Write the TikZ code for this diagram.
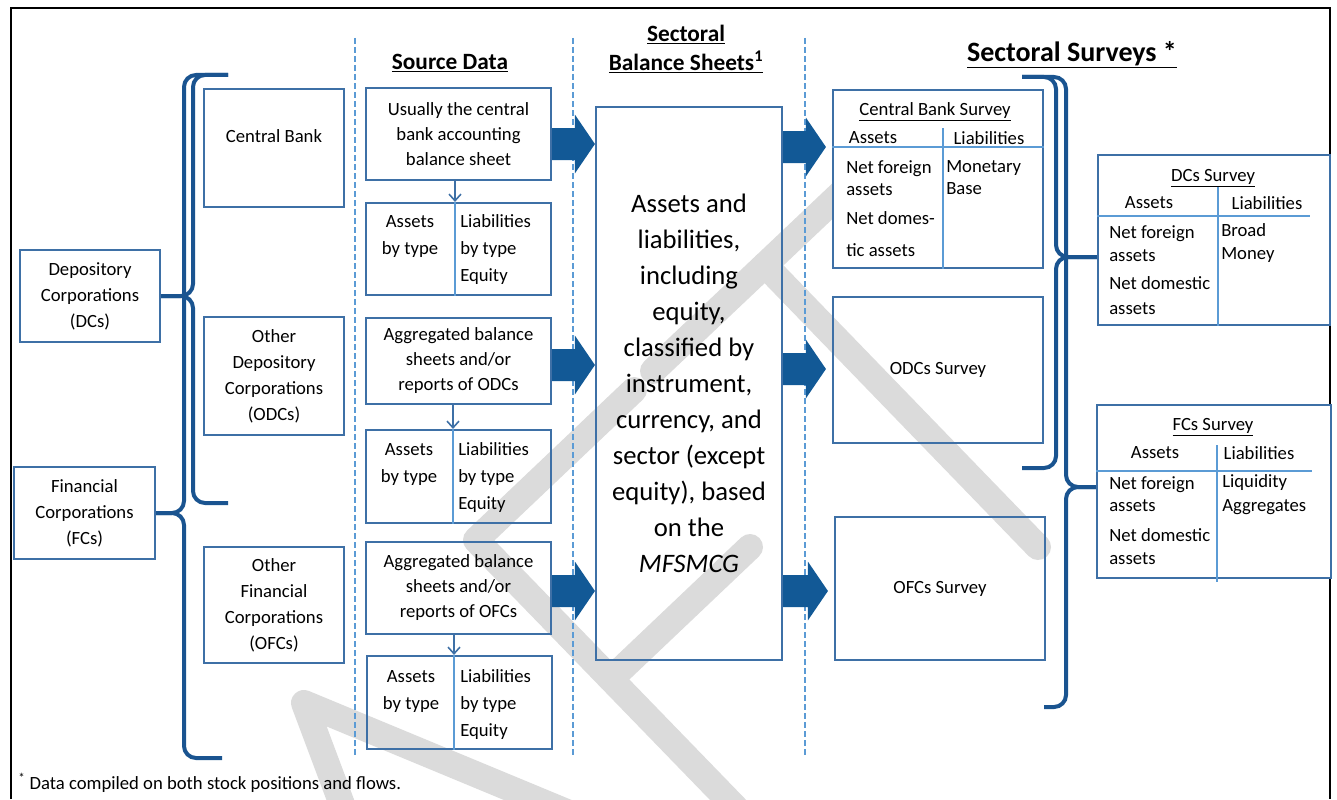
\documentclass[tikz,border=0pt]{standalone}
\usepackage{fontspec}
\setmainfont{Carlito}
\usetikzlibrary{arrows.meta,calc}

\definecolor{boxblue}{RGB}{62,112,166}
\definecolor{lineblue}{RGB}{91,155,213}
\definecolor{arrowblue}{RGB}{18,89,150}
\definecolor{braceblue}{RGB}{26,84,144}
\definecolor{draftgray}{RGB}{219,219,219}

\newcommand\pxu{0.75pt}
\newcommand\boxfont{\fontsize{14}{18.75}\selectfont}
\newcommand\sectorfont{\fontsize{14}{19.5}\selectfont}
\newcommand\survfont{\fontsize{14}{16.5}\selectfont}
\newcommand\bigfont{\fontsize{20}{27}\selectfont}
\newcommand\headfont{\fontsize{17.5}{21.75}\selectfont\bfseries}
\newcommand\titlefont{\fontsize{21}{25}\selectfont\bfseries}

\tikzset{
  box/.style={draw=boxblue, line width=1.6pt, inner sep=0pt},
  tablebox/.style={box, fill=white},
  txt/.style={font=\boxfont, align=center, inner sep=0pt},
  sectortxt/.style={font=\sectorfont, align=center, inner sep=0pt},
  survtxt/.style={font=\survfont, align=left, anchor=west, inner sep=0pt},
  bigtxt/.style={font=\bigfont, align=center},
  heading/.style={font=\headfont, align=center, inner sep=0pt},
  divider/.style={draw=lineblue, line width=1.3pt},
  sep/.style={draw=lineblue, line width=1.8pt, dash pattern=on 4.5pt off 2.25pt},
  thinarrow/.style={draw=boxblue, line width=1.2pt, -{Straight Barb[length=5pt,width=9pt]}},
  brace/.style={draw=braceblue, line width=3pt, rounded corners=9pt},
  draft/.style={draw=draftgray, line width=19.5pt, line cap=round, line join=round},
  fat/.style={fill=arrowblue, to path={let \p1=(\tikztostart), \p2=(\tikztotarget) in
    (\x1,\y1+12pt) -- (\x2-15pt,\y1+12pt) -- (\x2-15pt,\y1+22pt) -- (\x2,\y1)
    -- (\x2-15pt,\y1-22pt) -- (\x2-15pt,\y1-12pt) -- (\x1,\y1-12pt) -- cycle}}
}

\begin{document}
\begin{tikzpicture}[x=0.75pt, y=-0.75pt]
  \useasboundingbox (0,0) rectangle (1337,799);

  % Watermark
  \begin{scope}
    \clip (11,8) rectangle (1330,799);
    \draw[draft] (461,1122) -- (304,703) -- (721,876);
    \draw[draft] (634,390) -- (476,540) -- (763,836);
    \draw[draft] (611,679) -- (750,547);
    \draw[draft] (765,265) -- (1038,547);
    \draw[draft] (653,371) -- (877,159);
  \end{scope}

  % Frame
  \draw[line width=2.2pt] (11,799) -- (11,8) -- (1330,8) -- (1330,799);

  % Separators
  \draw[sep] (355,38) -- (355,758);
  \draw[sep] (573,38) -- (573,758);
  \draw[sep] (805,38) -- (805,758);

  % Headings
  \node[heading] (hsrc) at (450,63) {\underline{Source Data}};
  \node[heading] (hbs) at (686,49) {\underline{Sectoral}\\\underline{Balance Sheets\textsuperscript{1}}};
  \node[font=\titlefont, inner sep=0pt] (hsur) at (1072,55) {\underline{Sectoral Surveys *}};

  % Sectors
  \node[box, sectortxt, minimum width=140*\pxu, minimum height=92*\pxu] (dc) at (90,296) {Depository\\Corporations\\(DCs)};
  \node[box, sectortxt, minimum width=141*\pxu, minimum height=92*\pxu] (fc) at (84.5,513) {Financial\\Corporations\\(FCs)};
  \node[box, minimum width=140*\pxu, minimum height=118*\pxu] (cb) at (274,148) {};
  \node[sectortxt] (cbt) at (274,136) {Central Bank};
  \node[box, sectortxt, minimum width=140*\pxu, minimum height=118*\pxu] (odc) at (274,376) {Other\\Depository\\Corporations\\(ODCs)};
  \node[box, sectortxt, minimum width=140*\pxu, minimum height=116*\pxu] (ofc) at (274,605) {Other\\Financial\\Corporations\\(OFCs)};

  % Braces
  \draw[brace] (228,75) -- (193,75) -- (193,296) -- (dc.east);
  \draw[brace] (dc.east) -- (193,296) -- (193,503) -- (228,503);
  \draw[brace] (228,75) -- (184,75) -- (184,513) -- (fc.east);
  \draw[brace] (fc.east) -- (184,513) -- (184,758) -- (222,758);

  % Source data
  \node[box, txt, minimum width=185*\pxu, minimum height=92*\pxu] (src1) at (458.5,134) {Usually the central\\bank accounting\\balance sheet};
  \node[box, minimum width=185*\pxu, minimum height=92*\pxu] (bal1) at (458.5,249) {};
  \node[box, txt, minimum width=185*\pxu, minimum height=86*\pxu] (src2) at (458.5,361) {Aggregated balance\\sheets and/or\\reports of ODCs};
  \node[box, minimum width=185*\pxu, minimum height=93*\pxu] (bal2) at (458.5,476.5) {};
  \node[box, txt, minimum width=185*\pxu, minimum height=92*\pxu] (src3) at (458.5,588) {Aggregated balance\\sheets and/or\\reports of OFCs};
  \node[box, minimum width=185*\pxu, minimum height=93*\pxu] (bal3) at (459.5,702.5) {};

  \draw[divider] (455,0 |- bal1.north) -- (455,0 |- bal1.south);
  \draw[divider] (453,0 |- bal2.north) -- (453,0 |- bal2.south);
  \draw[divider] (454,0 |- bal3.north) -- (454,0 |- bal3.south);
  \draw[thinarrow] (455,0 |- src1.south) -- (455,0 |- bal1.north);
  \draw[thinarrow] (453,0 |- src2.south) -- (453,0 |- bal2.north);
  \draw[thinarrow] (454,0 |- src3.south) -- (454,0 |- bal3.north);

  \node[txt, font=\fontsize{14}{20.25}\selectfont] (bal1a) at (410,237) {Assets\\by type};
  \node[txt, font=\fontsize{14}{20.25}\selectfont, align=left, anchor=west] (bal1l) at (460,250) {Liabilities\\by type\\Equity};
  \node[txt, font=\fontsize{14}{20.25}\selectfont] (bal2a) at (409,465) {Assets\\by type};
  \node[txt, font=\fontsize{14}{20.25}\selectfont, align=left, anchor=west] (bal2l) at (458,478) {Liabilities\\by type\\Equity};
  \node[txt, font=\fontsize{14}{20.25}\selectfont] (bal3a) at (411,691.5) {Assets\\by type};
  \node[txt, font=\fontsize{14}{20.25}\selectfont, align=left, anchor=west] (bal3l) at (460,705) {Liabilities\\by type\\Equity};

  % Sectoral balance sheets
  \node[box, bigtxt, minimum width=186*\pxu, minimum height=553*\pxu] (bs) at (689,383.5) {Assets and\\liabilities,\\including\\equity,\\classified by\\instrument,\\currency, and\\sector (except\\equity), based\\on the\\\textit{MFSMCG}};

  % Surveys
  \node[tablebox, minimum width=210*\pxu, minimum height=178*\pxu] (cbs) at (938,179) {};
  \node[box, txt, minimum width=210*\pxu, minimum height=146*\pxu] (odcs) at (938,370) {ODCs Survey};
  \node[box, txt, minimum width=210*\pxu, minimum height=143*\pxu] (ofcs) at (940,588.5) {OFCs Survey};
  \node[tablebox, minimum width=232*\pxu, minimum height=170*\pxu] (dcs) at (1214,240) {};
  \node[tablebox, minimum width=234*\pxu, minimum height=173*\pxu] (fcs) at (1214,491.5) {};

  % Central bank survey
  \node[txt] (cbst) at (935,112) {\underline{Central Bank Survey}};
  \node[txt] (cbsa) at (873,138) {Assets};
  \node[txt] (cbsl) at (989,138) {Liabilities};
  \draw[divider] (cbs.west |- 0,147) -- (cbs.east |- 0,147);
  \draw[divider] (943,128) -- (943,0 |- cbs.south);
  \node[survtxt] (cbsna) at (846,208.5) {Net foreign\\assets\\[5.25pt]Net domes-\\[7.5pt]tic assets};
  \node[survtxt] (cbsmb) at (946,178) {Monetary\\Base};

  % DCs survey
  \node[txt] (dcst) at (1213,178) {\underline{DCs Survey}};
  \node[txt] (dcsa) at (1149,203) {Assets};
  \node[txt] (dcsl) at (1267,203) {Liabilities};
  \draw[divider] (dcs.west |- 0,216) -- (1310,216);
  \draw[divider] (1218,187) -- (1218,0 |- dcs.south);
  \node[survtxt, font=\fontsize{14}{17.25}\selectfont] (dcsna) at (1109,270) {Net foreign\\assets\\[3.75pt]Net domestic\\[1.5pt]assets};
  \node[survtxt, font=\fontsize{14}{17.25}\selectfont] (dcsbm) at (1221,243.5) {Broad\\Money};

  % FCs survey
  \node[txt] (fcst) at (1213,427) {\underline{FCs Survey}};
  \node[txt] (fcsa) at (1155,453) {Assets};
  \node[txt] (fcsl) at (1259,453) {Liabilities};
  \draw[divider] (fcs.west |- 0,471) -- (1312,471);
  \draw[divider] (1217,445) -- (1217,582);
  \node[survtxt] (fcsna) at (1109,520.5) {Net foreign\\assets\\[6pt]Net domestic\\[0.75pt]assets};
  \node[survtxt, font=\fontsize{14}{18}\selectfont] (fcsla) at (1222,495) {Liquidity\\Aggregates};

  \draw[brace] (1022,77) -- (1056,77) -- (1056,257) -- (dcs.west |- 0,257);
  \draw[brace] (dcs.west |- 0,257) -- (1056,257) -- (1056,468) -- (1022,468);
  \draw[brace] (1022,77) -- (1066,77) -- (1066,487) -- (fcs.west |- 0,487);
  \draw[brace] (fcs.west |- 0,487) -- (1066,487) -- (1066,707) -- (1044,707);

  % Block arrows
  \path[fat] (src1.east |- 0,144) to (bs.west |- 0,144);
  \path[fat] (src2.east |- 0,365) to (bs.west |- 0,365);
  \path[fat] (src3.east |- 0,591) to (bs.west |- 0,591);
  \path[fat] (bs.east |- 0,147) to ($(cbs.west |- 0,147)+(-6,0)$);
  \path[fat] (bs.east |- 0,369) to ($(odcs.west |- 0,369)+(-6,0)$);
  \path[fat] (bs.east |- 0,591) to ($(ofcs.west |- 0,591)+(-6,0)$);

  % Footnote
  \node[txt, anchor=west] (note) at (18,783) {\textsuperscript{*} Data compiled on both stock positions and flows.};
\end{tikzpicture}
\end{document}
